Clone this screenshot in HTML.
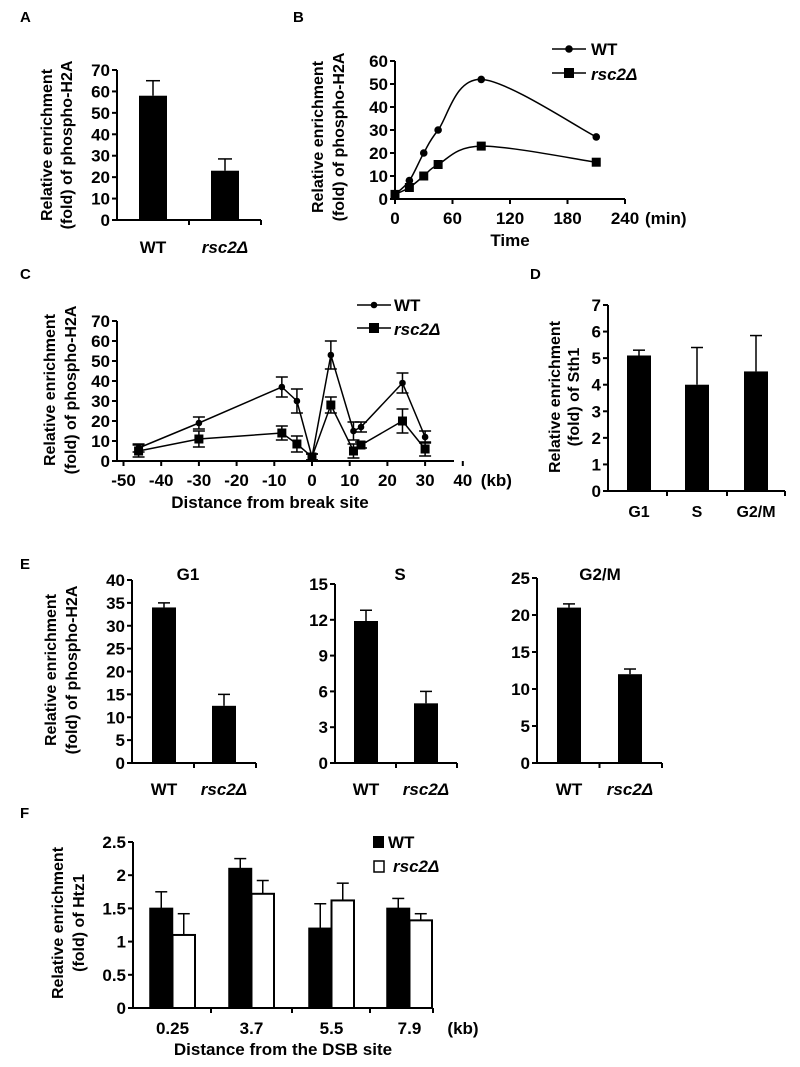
<!DOCTYPE html>
<html><head><meta charset="utf-8"><style>
html,body{margin:0;padding:0;background:#fff}
svg{display:block}
text{font-family:"Liberation Sans",Arial,sans-serif;font-weight:bold;fill:#000}
</style></head><body>
<svg id="fig" width="800" height="1067" viewBox="0 0 800 1067" xmlns="http://www.w3.org/2000/svg"></svg>
<script>
// ---- data ----
const aCats = ["WT","rsc2Δ"];
const aVals = [58, 23];
const aErrs = [7, 5.5];

const bTimes = [0, 15, 30, 45, 90, 210];
const bWT = [2, 8, 20, 30, 52, 27];
const bRsc = [2, 5, 10, 15, 23, 16];
const bXTicks = [0, 60, 120, 180, 240];
const bYTicks = [0, 10, 20, 30, 40, 50, 60];

const cKb = [-46, -30, -8, -4, 0, 5, 11, 13, 24, 30];
const cWT = [6.5, 19, 37, 30, 2, 53, 15, 17, 39, 12];
const cWTErr = [2, 3, 5, 6, 1.5, 7, 4.5, 2.5, 5, 3];
const cRsc = [5, 11, 14, 8.5, 2, 28, 5, 8, 20, 6];
const cRscErr = [3, 4, 3.5, 4, 1.5, 4, 3.5, 1.5, 6, 3.5];
const cXTicks = [-50, -40, -30, -20, -10, 0, 10, 20, 30, 40];
const cYTicks = [0, 10, 20, 30, 40, 50, 60, 70];

const dCats = ["G1", "S", "G2/M"];
const dVals = [5.1, 4.0, 4.5];
const dErrs = [0.2, 1.4, 1.35];

const eCats = ["WT", "rsc2Δ"];
const eG1 = [34, 12.5];
const eG1Err = [1, 2.5];
const eS = [11.9, 5];
const eSErr = [0.9, 1];
const eG2M = [21, 12];
const eG2MErr = [0.5, 0.7];

const fCats = ["0.25", "3.7", "5.5", "7.9"];
const fWT = [1.5, 2.1, 1.2, 1.5];
const fWTErr = [0.25, 0.15, 0.37, 0.15];
const fRsc = [1.1, 1.72, 1.62, 1.32];
const fRscErr = [0.32, 0.2, 0.26, 0.1];

// ---- helpers ----
const svg = document.getElementById('fig');
const NS = "http://www.w3.org/2000/svg";
function el(tag, attrs, parent) {
  const e = document.createElementNS(NS, tag);
  for (const k in attrs) e.setAttribute(k, attrs[k]);
  (parent || svg).appendChild(e);
  return e;
}
function txt(x, y, s, size, anchor, name, extra) {
  const t = el('text', Object.assign({x: x, y: y, 'font-size': size, 'text-anchor': anchor || 'middle'}, extra || {}));
  t.textContent = s;
  
  
  return t;
}
function italicLabel(x, y, size, anchor, name) {
  const t = txt(x, y, "rsc2Δ", size, anchor, name, {'font-style': 'italic'});
  return t;
}
function line(x1, y1, x2, y2, w, name) {
  const l = el('line', {x1: x1, y1: y1, x2: x2, y2: y2, stroke: '#000', 'stroke-width': w || 2});
  
  
  return l;
}
function ylabel(x1, x2, cy, l1, l2, name) {
  const g = el('g', {});
  
  
  const t1 = el('text', {x: 0, y: 0, 'font-size': 16, 'text-anchor': 'middle', transform: `translate(${x1},${cy}) rotate(-90)`}, g);
  t1.textContent = l1;
  const t2 = el('text', {x: 0, y: 0, 'font-size': 16, 'text-anchor': 'middle', transform: `translate(${x2},${cy}) rotate(-90)`}, g);
  t2.textContent = l2;
}
function yAxis(ax, y0, yTop, max, ticks, prefix, fmt) {
  const sy = v => y0 - (v / max) * (y0 - yTop);
  line(ax, y0 + 1, ax, sy(ticks[ticks.length - 1]), 2, prefix + '-y-axis');
  ticks.forEach(v => {
    line(ax - 5, sy(v), ax, sy(v), 2, prefix + '-y-tick');
    txt(ax - 7, sy(v) + 6, fmt ? fmt(v) : String(v), 17, 'end', prefix + '-y-tick-label');
  });
  return sy;
}
function errBar(cx, yv, ye, capw, name) {
  line(cx, yv, cx, ye, 1.5, name);
  line(cx - capw, ye, cx + capw, ye, 1.5, name + '-cap');
}

// ---- panel letters ----
[["A",20,22],["B",293,22],["C",20,279],["D",530,279],["E",20,569],["F",20,818]].forEach(p => {
  txt(p[1], p[2], p[0], 15, 'start', 'panel-label-' + p[0].toLowerCase());
});

// ---- Panel A ----
(function(){
  const ax = 117, y0 = 220, yTop = 70, max = 70;
  ylabel(52, 72, 145, "Relative enrichment", "(fold) of phospho-H2A", 'a-y-axis-title');
  const sy = yAxis(ax, y0, yTop, max, [0,10,20,30,40,50,60,70], 'a');
  line(ax, y0, 261, y0, 2, 'a-x-axis');
  line(189, y0, 189, y0 + 5, 2, 'a-x-tick');
  line(261, y0, 261, y0 + 5, 2, 'a-x-tick');
  const lefts = [139, 211], w = 28;
  aVals.forEach((v, i) => {
    const r = el('rect', {x: lefts[i], y: sy(v), width: w, height: y0 - sy(v), fill: '#000'});
    
    
    errBar(lefts[i] + w / 2, sy(v), sy(v + aErrs[i]), 7, 'a-error-bar');
  });
  txt(153, 253, aCats[0], 17, 'middle', 'a-x-label-wt');
  italicLabel(225, 253, 17, 'middle', 'a-x-label-rsc2');
})();

// ---- Panel B ----
(function(){
  const ax = 395, y0 = 199, yTop = 61, max = 60;
  ylabel(323, 344, 137, "Relative enrichment", "(fold) of phospho-H2A", 'b-y-axis-title');
  const sy = yAxis(ax, y0, yTop, max, bYTicks, 'b');
  const sx = t => ax + t * (230 / 240);
  line(ax, y0, sx(240), y0, 2, 'b-x-axis');
  bXTicks.forEach(t => {
    line(sx(t), y0, sx(t), y0 + 5, 2, 'b-x-tick');
    txt(sx(t), 224, String(t), 17, 'middle', 'b-x-tick-label');
  });
  txt(sx(240) + 20, 224, "(min)", 17, 'start', 'b-x-unit');
  txt(510, 246, "Time", 17, 'middle', 'b-x-axis-title');
  function smooth(pts) {
    let d = `M${pts[0][0]},${pts[0][1]}`;
    for (let i = 0; i < pts.length - 1; i++) {
      const p0 = pts[Math.max(i - 1, 0)], p1 = pts[i], p2 = pts[i + 1], p3 = pts[Math.min(i + 2, pts.length - 1)];
      const c1 = [p1[0] + (p2[0] - p0[0]) / 6, p1[1] + (p2[1] - p0[1]) / 6];
      const c2 = [p2[0] - (p3[0] - p1[0]) / 6, p2[1] - (p3[1] - p1[1]) / 6];
      d += ` C${c1[0]},${c1[1]} ${c2[0]},${c2[1]} ${p2[0]},${p2[1]}`;
    }
    return d;
  }
  [[bWT, 'wt'], [bRsc, 'rsc2']].forEach(([vals, nm]) => {
    const pts = bTimes.map((t, i) => [sx(t), sy(vals[i])]);
    const p = el('path', {d: smooth(pts), fill: 'none', stroke: '#000', 'stroke-width': 1.5});
    
    
    pts.forEach(pt => {
      const m = nm === 'wt' ? el('circle', {cx: pt[0], cy: pt[1], r: 3.8, fill: '#000'})
                            : el('rect', {x: pt[0] - 4.5, y: pt[1] - 4.5, width: 9, height: 9, fill: '#000'});
      
      
    });
  });
  line(552, 49, 586, 49, 1.5, 'b-legend-line-wt');
  const c = el('circle', {cx: 569, cy: 49, r: 3.8, fill: '#000'});
  
  
  txt(591, 55, "WT", 17, 'start', 'b-legend-text-wt');
  line(552, 73, 586, 73, 1.5, 'b-legend-line-rsc2');
  const s = el('rect', {x: 564, y: 68, width: 10, height: 10, fill: '#000'});
  
  
  italicLabel(591, 80, 17, 'start', 'b-legend-text-rsc2');
})();

// ---- Panel C ----
(function(){
  const ax = 117, y0 = 461, yTop = 321, max = 70;
  ylabel(55, 76, 390, "Relative enrichment", "(fold) of phospho-H2A", 'c-y-axis-title');
  const sy = yAxis(ax, y0, yTop, max, cYTicks, 'c');
  const sx = k => 312 + k * 3.77;
  line(ax, y0, 454, y0, 2, 'c-x-axis');
  cXTicks.forEach(k => {
    line(sx(k), y0, sx(k), y0 + 5, 2, 'c-x-tick');
    txt(sx(k), 486, String(k), 17, 'middle', 'c-x-tick-label');
  });
  txt(sx(40) + 18, 486, "(kb)", 17, 'start', 'c-x-unit');
  txt(270, 508, "Distance from break site", 17, 'middle', 'c-x-axis-title');
  [[cWT, cWTErr, 'wt'], [cRsc, cRscErr, 'rsc2']].forEach(([vals, errs, nm]) => {
    const pts = cKb.map((k, i) => [sx(k), sy(vals[i])]);
    const p = el('polyline', {points: pts.map(q => q.join(',')).join(' '), fill: 'none', stroke: '#000', 'stroke-width': 1.5});
    
    
    pts.forEach((pt, i) => {
      line(pt[0], sy(vals[i] - errs[i]), pt[0], sy(vals[i] + errs[i]), 1.5, 'c-error-bar-' + nm);
      line(pt[0] - 6, sy(vals[i] + errs[i]), pt[0] + 6, sy(vals[i] + errs[i]), 1.5, 'c-error-cap-' + nm);
      line(pt[0] - 6, sy(vals[i] - errs[i]), pt[0] + 6, sy(vals[i] - errs[i]), 1.5, 'c-error-cap-' + nm);
      const m = nm === 'wt' ? el('circle', {cx: pt[0], cy: pt[1], r: 3.3, fill: '#000'})
                            : el('rect', {x: pt[0] - 4.5, y: pt[1] - 4.5, width: 9, height: 9, fill: '#000'});
      
      
    });
  });
  line(357, 305, 391, 305, 1.5, 'c-legend-line-wt');
  const c = el('circle', {cx: 374, cy: 305, r: 3.3, fill: '#000'});
  
  
  txt(394, 311, "WT", 17, 'start', 'c-legend-text-wt');
  line(357, 328, 391, 328, 1.5, 'c-legend-line-rsc2');
  const s = el('rect', {x: 369, y: 323, width: 10, height: 10, fill: '#000'});
  
  
  italicLabel(394, 335, 17, 'start', 'c-legend-text-rsc2');
})();

// ---- Panel D ----
(function(){
  const ax = 608, y0 = 491, yTop = 305, max = 7;
  ylabel(560, 579, 397, "Relative enrichment", "(fold) of Sth1", 'd-y-axis-title');
  const sy = yAxis(ax, y0, yTop, max, [0,1,2,3,4,5,6,7], 'd');
  line(ax, y0, 785, y0, 2, 'd-x-axis');
  [667, 727, 785].forEach(x => line(x, y0, x, y0 + 5, 2, 'd-x-tick'));
  const lefts = [627, 685, 744], w = 24;
  dVals.forEach((v, i) => {
    const r = el('rect', {x: lefts[i], y: sy(v), width: w, height: y0 - sy(v), fill: '#000'});
    
    
    errBar(lefts[i] + w / 2, sy(v), sy(v + dErrs[i]), 6, 'd-error-bar');
    txt(lefts[i] + w / 2, 517, dCats[i], 16, 'middle', 'd-x-label');
  });
})();

// ---- Panel E ----
function ePanel(prefix, title, titleX, ax, yTop, max, ticks, vals, errs, lefts, axEnd) {
  const y0 = 763;
  txt(titleX, 580, title, 17, 'middle', prefix + '-title');
  const sy = yAxis(ax, y0, yTop, max, ticks, prefix);
  line(ax, y0, axEnd, y0, 2, prefix + '-x-axis');
  const mid = (lefts[0] + lefts[1] + 24) / 2;
  line(mid, y0, mid, y0 + 5, 2, prefix + '-x-tick');
  line(axEnd, y0, axEnd, y0 + 5, 2, prefix + '-x-tick');
  vals.forEach((v, i) => {
    const r = el('rect', {x: lefts[i], y: sy(v), width: 24, height: y0 - sy(v), fill: '#000'});
    
    
    errBar(lefts[i] + 12, sy(v), sy(v + errs[i]), 6, prefix + '-error-bar');
  });
  txt(lefts[0] + 12, 795, eCats[0], 17, 'middle', prefix + '-x-label-wt');
  italicLabel(lefts[1] + 12, 795, 17, 'middle', prefix + '-x-label-rsc2');
}
ylabel(56, 77, 670, "Relative enrichment", "(fold) of phospho-H2A", 'e-y-axis-title');
ePanel('e-g1', 'G1', 188, 132, 580, 40, [0,5,10,15,20,25,30,35,40], eG1, eG1Err, [152, 212], 256);
ePanel('e-s', 'S', 400, 335, 584, 15, [0,3,6,9,12,15], eS, eSErr, [354, 414], 457);
ePanel('e-g2m', 'G2/M', 600, 537, 578, 25, [0,5,10,15,20,25], eG2M, eG2MErr, [557, 618], 662);

// ---- Panel F ----
(function(){
  const ax = 133, y0 = 1008, yTop = 842, max = 2.5;
  ylabel(63, 84, 923, "Relative enrichment", "(fold) of Htz1", 'f-y-axis-title');
  const sy = yAxis(ax, y0, yTop, max, [0,0.5,1,1.5,2,2.5], 'f');
  line(ax, y0, 433, y0, 2, 'f-x-axis');
  [211, 292, 370, 433].forEach(x => line(x, y0, x, y0 + 5, 2, 'f-x-tick'));
  const groupLeft = [150, 229, 309, 387], w = 22.5;
  fCats.forEach((c, i) => {
    const gx = groupLeft[i];
    const r1 = el('rect', {x: gx, y: sy(fWT[i]), width: w, height: y0 - sy(fWT[i]), fill: '#000', stroke: '#000', 'stroke-width': 1.5});
    
    
    errBar(gx + w / 2, sy(fWT[i]), sy(fWT[i] + fWTErr[i]), 6, 'f-error-bar-wt');
    const r2 = el('rect', {x: gx + w, y: sy(fRsc[i]), width: w, height: y0 - sy(fRsc[i]), fill: '#fff', stroke: '#000', 'stroke-width': 2});
    
    
    errBar(gx + w * 1.5, sy(fRsc[i]), sy(fRsc[i] + fRscErr[i]), 6, 'f-error-bar-rsc2');
    txt(gx + w, 1034, c, 17, 'middle', 'f-x-tick-label');
  });
  txt(463, 1034, "(kb)", 17, 'middle', 'f-x-unit');
  txt(283, 1055, "Distance from the DSB site", 17, 'middle', 'f-x-axis-title');
  const l1 = el('rect', {x: 373, y: 836, width: 11, height: 12, fill: '#000'});
  
  
  txt(388, 848, "WT", 17, 'start', 'f-legend-text-wt');
  const l2 = el('rect', {x: 374, y: 861, width: 10, height: 11, fill: '#fff', stroke: '#000', 'stroke-width': 1.5});
  
  
  italicLabel(393, 872, 17, 'start', 'f-legend-text-rsc2');
})();
</script>
</body></html>
